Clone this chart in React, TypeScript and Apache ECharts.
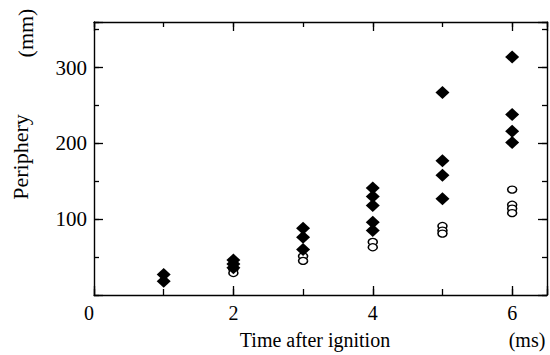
import React, { useEffect, useRef } from "react";
import * as echarts from "echarts";

// Time after ignition (ms) and periphery (mm)
const filledTimes = [1, 1, 2, 2, 2, 3, 3, 3, 4, 4, 4, 4, 4, 5, 5, 5, 5, 6, 6, 6, 6];
const filledValues = [27, 18, 46, 41, 36, 88, 76, 60, 141, 130, 118, 96, 85, 267, 177, 158, 127, 314, 238, 216, 201];
const openTimes = [2, 2, 3, 3, 4, 4, 5, 5, 5, 6, 6, 6, 6];
const openValues = [34, 29, 51, 45, 70, 63, 91, 85, 81, 139, 119, 114, 108];

const xTickLabels = [0, 2, 4, 6];
const yTickLabels = [100, 200, 300];

const xTitle = "Time after ignition";
const xUnit = "(ms)";
const yTitle = "Periphery";
const yUnit = "(mm)";

const FONT = "Liberation Serif";

export default function App() {
  const ref = useRef<HTMLDivElement>(null);

  useEffect(() => {
    if (!ref.current) return;
    const chart = echarts.init(ref.current, undefined, { renderer: "svg" });

    const line = { show: true, onZero: false, lineStyle: { color: "#000", width: 1.4 } };
    const noLine = { show: false, onZero: false };
    const xMin = 0, xMax = 6.5, yMin = 0, yMax = 360;

    const xBase = { type: "value", min: xMin, max: xMax, splitLine: { show: false } };
    const yBase = { type: "value", min: yMin, max: yMax, splitLine: { show: false } };
    const tickStyle = { color: "#000", width: 1.3 };

    const option: any = {
      animation: false,
      backgroundColor: "#fff",
      grid: { left: 94, right: -2, top: 22, bottom: 60 },
      xAxis: [
        {
          ...xBase,
          position: "bottom",
          interval: 2,
          axisLine: line,
          axisTick: { inside: true, length: 9, lineStyle: tickStyle },
          axisLabel: {
            margin: 8,
            color: "#000",
            fontFamily: FONT,
            fontSize: 20,
            alignMinLabel: "right",
            formatter: (v: number) => (xTickLabels.includes(v) ? String(v) : ""),
          },
        },
        {
          ...xBase,
          position: "bottom",
          interval: 1,
          axisLine: noLine,
          axisTick: { inside: true, length: 6, lineStyle: tickStyle },
          axisLabel: { show: false },
        },
        {
          ...xBase,
          position: "top",
          interval: 2,
          axisLine: line,
          axisTick: { inside: true, length: 9, lineStyle: tickStyle },
          axisLabel: { show: false },
        },
        {
          ...xBase,
          position: "top",
          interval: 1,
          axisLine: noLine,
          axisTick: { inside: true, length: 5, lineStyle: tickStyle },
          axisLabel: { show: false },
        },
      ],
      yAxis: [
        {
          ...yBase,
          position: "left",
          interval: 100,
          axisLine: line,
          axisTick: { inside: true, length: 9, lineStyle: tickStyle },
          axisLabel: {
            margin: 7,
            color: "#000",
            fontFamily: FONT,
            fontSize: 21,
            formatter: (v: number) => (yTickLabels.includes(v) ? String(v) : ""),
          },
        },
        {
          ...yBase,
          position: "left",
          interval: 50,
          axisLine: noLine,
          axisTick: { inside: true, length: 5, lineStyle: tickStyle },
          axisLabel: { show: false },
        },
        {
          ...yBase,
          position: "right",
          interval: 100,
          axisLine: line,
          axisTick: { inside: true, length: 9, lineStyle: tickStyle },
          axisLabel: { show: false },
        },
        {
          ...yBase,
          position: "right",
          interval: 50,
          axisLine: noLine,
          axisTick: { inside: true, length: 5, lineStyle: tickStyle },
          axisLabel: { show: false },
        },
      ],
      series: [
        {
          type: "scatter",
          xAxisIndex: 0,
          yAxisIndex: 0,
          symbol: "circle",
          symbolSize: [9, 7],
          itemStyle: { color: "#fff", borderColor: "#000", borderWidth: 1.4, opacity: 1 },
          data: openTimes.map((t, i) => [t, openValues[i]]),
        },
        {
          type: "scatter",
          xAxisIndex: 0,
          yAxisIndex: 0,
          symbol: "diamond",
          symbolSize: [14, 13],
          itemStyle: { color: "#000", opacity: 1 },
          data: filledTimes.map((t, i) => [t, filledValues[i]]),
        },
      ],
      graphic: [
        {
          type: "text",
          x: 315,
          y: 340,
          style: { text: xTitle, font: `20px "${FONT}"`, fill: "#000", align: "center", verticalAlign: "middle" },
        },
        {
          type: "text",
          x: 527,
          y: 340,
          style: { text: xUnit, font: `20px "${FONT}"`, fill: "#000", align: "center", verticalAlign: "middle" },
        },
        {
          type: "text",
          x: 20,
          y: 157,
          rotation: Math.PI / 2,
          style: { text: yTitle, font: `22px "${FONT}"`, fill: "#000", align: "center", verticalAlign: "middle" },
        },
        {
          type: "text",
          x: 25,
          y: 33,
          rotation: Math.PI / 2,
          style: { text: yUnit, font: `22px "${FONT}"`, fill: "#000", align: "center", verticalAlign: "middle" },
        },
      ],
    };

    chart.setOption(option);
    return () => chart.dispose();
  }, []);

  return <div ref={ref} style={{ width: 550, height: 355, position: "absolute", left: 0, top: 0 }} />;
}
